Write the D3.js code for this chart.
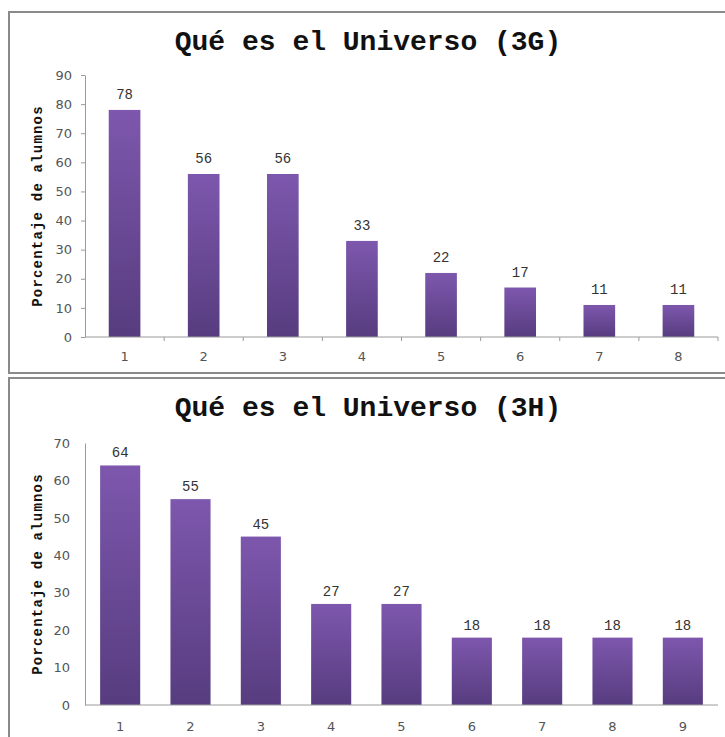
<!DOCTYPE html>
<html>
<head>
<meta charset="utf-8">
<script src="https://cdn.jsdelivr.net/npm/d3@7"></script>
<style>
  html, body { margin: 0; padding: 0; background: #fff; }
  svg { display: block; }
</style>
</head>
<body>
<svg id="chart" width="725" height="737"></svg>
<script>
// Survey results: "Qué es el Universo" for groups 3G and 3H
const categoriesG = [1, 2, 3, 4, 5, 6, 7, 8];
const valuesG = [78, 56, 56, 33, 22, 17, 11, 11];
const ticksG = [0, 10, 20, 30, 40, 50, 60, 70, 80, 90];

const categoriesH = [1, 2, 3, 4, 5, 6, 7, 8, 9];
const valuesH = [64, 55, 45, 27, 27, 18, 18, 18, 18];
const ticksH = [0, 10, 20, 30, 40, 50, 60, 70];

const titleG = "Qué es el Universo (3G)";
const titleH = "Qué es el Universo (3H)";
const yTitle = "Porcentaje de alumnos";

const svg = d3.select("#chart");

// vertical purple gradient shared by all bars
const defs = svg.append("defs");
const grad = defs.append("linearGradient")
  .attr("id", "barGrad").attr("x1", 0).attr("y1", 0).attr("x2", 0).attr("y2", 1);
grad.append("stop").attr("offset", "0%").attr("stop-color", "#7d57ad");
grad.append("stop").attr("offset", "100%").attr("stop-color", "#573c7f");

const mono = "'Liberation Mono', 'Courier New', monospace";
const sans = "'DejaVu Sans', Verdana, sans-serif";

function drawPanel(opts) {
  const g = svg.append("g");

  // panel frame
  g.append("rect")
    .attr("x", opts.frame[0]).attr("y", opts.frame[1])
    .attr("width", opts.frame[2]).attr("height", opts.frame[3])
    .attr("fill", "#fff").attr("stroke", "#8a8a8a").attr("stroke-width", 2);

  // title
  g.append("text")
    .attr("x", 368).attr("y", opts.titleY)
    .attr("text-anchor", "middle")
    .attr("font-family", mono).attr("font-weight", "bold")
    .attr("font-size", 28).attr("fill", "#111")
    .text(opts.title);

  const x = d3.scaleBand()
    .domain(opts.categories)
    .range([opts.left, opts.right])
    .paddingInner(opts.padding).paddingOuter(opts.padding / 2);

  const y = d3.scaleLinear()
    .domain([0, d3.max(opts.ticks)])
    .range([opts.bottom, opts.top]);

  // bars
  g.selectAll("rect.bar")
    .data(opts.values)
    .join("rect")
    .attr("class", "bar")
    .attr("x", (d, i) => x(opts.categories[i]))
    .attr("y", d => y(d))
    .attr("width", x.bandwidth())
    .attr("height", d => y(0) - y(d))
    .attr("fill", "url(#barGrad)");

  // value labels
  g.selectAll("text.val")
    .data(opts.values)
    .join("text")
    .attr("class", "val")
    .attr("x", (d, i) => x(opts.categories[i]) + x.bandwidth() / 2)
    .attr("y", d => y(d) - opts.labelGap)
    .attr("text-anchor", "middle")
    .attr("font-family", mono).attr("font-size", 14).attr("fill", "#333")
    .text(d => d);

  // y axis
  const yAxis = d3.axisLeft(y).tickValues(opts.ticks)
    .tickSize(opts.yTick).tickPadding(opts.yPad).tickSizeOuter(0);
  const ya = g.append("g").attr("transform", `translate(${opts.left},0)`).call(yAxis);
  ya.select(".domain").attr("stroke", "#9a9a9a");
  ya.selectAll(".tick line").attr("stroke", "#9a9a9a");
  ya.selectAll(".tick text")
    .attr("font-family", sans).attr("font-size", 13).attr("fill", "#555");

  // x axis: category labels, with optional separators between bands
  const xAxis = d3.axisBottom(x).tickSize(0).tickPadding(opts.xPad);
  const xa = g.append("g").attr("transform", `translate(0,${opts.bottom})`).call(xAxis);
  xa.select(".domain").attr("stroke", "#9a9a9a").attr("d", `M${opts.left},0H${opts.right}`);
  xa.selectAll(".tick text")
    .attr("font-family", sans).attr("font-size", 13).attr("fill", "#555");

  if (opts.xSeparators) {
    const step = x.step();
    g.append("g").selectAll("line")
      .data(opts.categories)
      .join("line")
      .attr("x1", (d, i) => opts.left + step * (i + 1))
      .attr("x2", (d, i) => opts.left + step * (i + 1))
      .attr("y1", opts.bottom).attr("y2", opts.bottom + 4)
      .attr("stroke", "#9a9a9a");
  }

  // y axis title
  g.append("text")
    .attr("transform", `translate(${opts.yTitleX},${(opts.top + opts.bottom) / 2}) rotate(-90)`)
    .attr("text-anchor", "middle")
    .attr("font-family", mono).attr("font-weight", "bold")
    .attr("font-size", 14).attr("letter-spacing", 1.2).attr("fill", "#111")
    .text(yTitle);
}

drawPanel({
  frame: [9, 12, 730, 361],
  title: titleG, titleY: 50,
  categories: categoriesG, values: valuesG, ticks: ticksG,
  left: 85, right: 718, top: 75, bottom: 337,
  padding: 0.6, labelGap: 11,
  yTick: 4, yPad: 9, xPad: 15, xSeparators: true,
  yTitleX: 42
});

drawPanel({
  frame: [9, 378, 730, 380],
  title: titleH, titleY: 416,
  categories: categoriesH, values: valuesH, ticks: ticksH,
  left: 85, right: 718, top: 443, bottom: 705,
  padding: 0.43, labelGap: 8,
  yTick: 0, yPad: 15, xPad: 17, xSeparators: false,
  yTitleX: 42
});
</script>
</body>
</html>
